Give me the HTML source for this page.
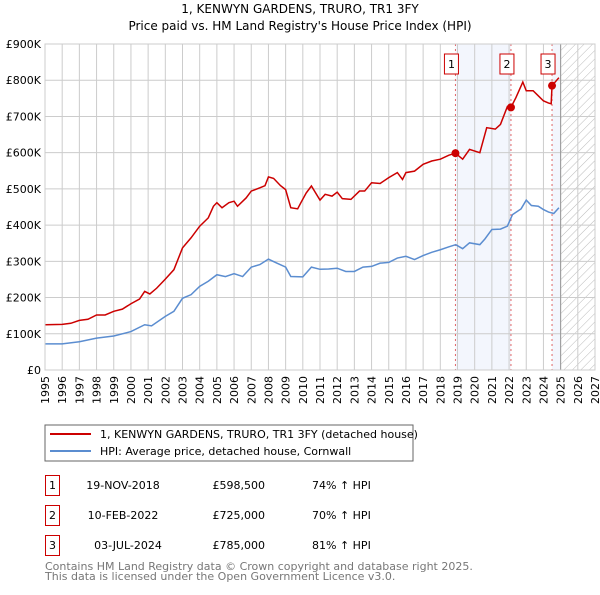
<!DOCTYPE html>
<html><head><meta charset="utf-8"><style>
body{margin:0;background:#fff;width:600px;height:590px;overflow:hidden}
svg{font-family:"DejaVu Sans","Liberation Sans",sans-serif}
</style></head><body>
<svg id="chart" width="600" height="590" viewBox="0 0 600 590">
<defs><pattern id="hatch" width="6" height="6" patternUnits="userSpaceOnUse" patternTransform="rotate(45)"><line x1="0" y1="0" x2="0" y2="6" stroke="#bbb" stroke-width="1"/></pattern></defs>
<text x="300" y="13" text-anchor="middle" font-size="12">1, KENWYN GARDENS, TRURO, TR1 3FY</text>
<text x="300" y="30" text-anchor="middle" font-size="12">Price paid vs. HM Land Registry's House Price Index (HPI)</text>
<g id="plot"></g>
<rect x="45" y="425" width="368" height="36" fill="#fff" stroke="#666"/>
<line x1="50" y1="434" x2="91" y2="434" stroke="#cc0000" stroke-width="2"/>
<text x="100" y="438" font-size="11">1, KENWYN GARDENS, TRURO, TR1 3FY (detached house)</text>
<line x1="50" y1="451" x2="91" y2="451" stroke="#5b8dd0" stroke-width="2"/>
<text x="100" y="455" font-size="11">HPI: Average price, detached house, Cornwall</text>
<g font-size="11">
<rect x="45.5" y="475.5" width="14" height="20" fill="none" stroke="#cc0000"/><text x="52.5" y="489" text-anchor="middle">1</text>
<text x="123" y="489" text-anchor="middle">19-NOV-2018</text><text x="265" y="489" text-anchor="end">£598,500</text><text x="312" y="489">74% ↑ HPI</text>
<rect x="45.5" y="505.5" width="14" height="20" fill="none" stroke="#cc0000"/><text x="52.5" y="519" text-anchor="middle">2</text>
<text x="123" y="519" text-anchor="middle">10-FEB-2022</text><text x="265" y="519" text-anchor="end">£725,000</text><text x="312" y="519">70% ↑ HPI</text>
<rect x="45.5" y="535.5" width="14" height="20" fill="none" stroke="#cc0000"/><text x="52.5" y="549" text-anchor="middle">3</text>
<text x="128" y="549" text-anchor="middle">03-JUL-2024</text><text x="265" y="549" text-anchor="end">£785,000</text><text x="312" y="549">81% ↑ HPI</text>
</g>
<text x="45" y="570" font-size="11" fill="#777">Contains HM Land Registry data © Crown copyright and database right 2025.</text>
<text x="45" y="580" font-size="11" fill="#777">This data is licensed under the Open Government Licence v3.0.</text>
</svg>
<script>
const hpiYears=[1995,1996,1997,1998,1999,2000,2000.8,2001.2,2002,2002.5,2003,2003.5,2004,2004.5,2005,2005.5,2006,2006.5,2007,2007.5,2008,2008.5,2009,2009.3,2010,2010.5,2011,2011.5,2012,2012.5,2013,2013.5,2014,2014.5,2015,2015.5,2016,2016.5,2017,2017.5,2018,2018.5,2018.9,2019.3,2019.7,2020.3,2020.6,2021,2021.5,2021.9,2022.2,2022.7,2023,2023.3,2023.7,2024,2024.3,2024.6,2024.9];
const hpiValues=[72,72,78,88,94,106,125,122,148,162,198,208,231,245,263,258,266,258,284,291,306,295,284,258,257,284,278,279,281,272,272,284,286,295,297,309,314,305,316,325,332,340,346,335,351,346,362,388,389,397,429,445,469,454,452,443,436,432,448];
const priceYears=[1995,1996,1996.5,1997,1997.5,1998,1998.5,1999,1999.5,2000,2000.5,2000.8,2001.1,2001.5,2002,2002.5,2003,2003.5,2004,2004.5,2004.8,2005,2005.3,2005.7,2006,2006.2,2006.7,2007,2007.5,2007.8,2008,2008.3,2008.7,2009,2009.3,2009.7,2009.9,2010.2,2010.5,2011,2011.3,2011.7,2012,2012.3,2012.8,2013.3,2013.6,2014,2014.5,2015,2015.5,2015.8,2016,2016.5,2017,2017.5,2018,2018.5,2018.88,2019.3,2019.7,2020.3,2020.7,2021.2,2021.5,2021.9,2022.11,2022.4,2022.8,2023,2023.4,2023.7,2024,2024.3,2024.45,2024.5,2024.9];
const priceValues=[125,126,129,137,140,152,152,162,168,183,196,217,210,226,251,277,337,365,397,420,452,462,448,462,466,452,475,494,503,509,533,529,509,498,448,445,463,489,508,469,485,480,491,473,471,494,494,517,515,531,545,526,545,549,568,577,582,593,598.5,582,609,600,669,665,678,727,725,752,795,771,771,757,743,737,735,785,807];
const saleYears=[2018.88,2022.11,2024.5];
const saleValues=[598.5,725,785];
const saleLabels=["1","2","3"];
const yTicks=[0,100,200,300,400,500,600,700,800,900];
const yTickLabels=["£0","£100K","£200K","£300K","£400K","£500K","£600K","£700K","£800K","£900K"];
const xTicks=[1995,1996,1997,1998,1999,2000,2001,2002,2003,2004,2005,2006,2007,2008,2009,2010,2011,2012,2013,2014,2015,2016,2017,2018,2019,2020,2021,2022,2023,2024,2025,2026,2027];

const L=45,R=595,T=44,B=370,x0=1995,x1=2027,ymax=900;
const X=v=>L+(v-x0)/(x1-x0)*(R-L);
const Y=v=>B-v/ymax*(B-T);
const NS="http://www.w3.org/2000/svg";
const g=document.getElementById('plot');
function mk(tag,attrs){const e=document.createElementNS(NS,tag);for(const k in attrs)e.setAttribute(k,attrs[k]);g.appendChild(e);return e;}
let e=mk('rect',{x:X(saleYears[0]),y:T,width:X(saleYears[1])-X(saleYears[0]),height:B-T,fill:'#f3f6fd'});


e=mk('rect',{x:X(saleYears[2]),y:T,width:X(2025)-X(saleYears[2]),height:B-T,fill:'#f3f6fd'});


e=mk('rect',{x:X(2025),y:T,width:R-X(2025),height:B-T,fill:'url(#hatch)'});


xTicks.forEach(t=>{
  const gl=mk('line',{x1:X(t),x2:X(t),y1:T,y2:B,stroke:'#ccc','stroke-width':1});
  
  
  const tx=mk('text',{x:0,y:0,'font-size':11,'text-anchor':'end',transform:`translate(${X(t)+4},${B+6}) rotate(-90)`});
  tx.textContent=t;
  
  
});
yTicks.forEach((t,i)=>{
  const gl=mk('line',{x1:L,x2:R,y1:Y(t),y2:Y(t),stroke:'#ccc','stroke-width':1});
  
  
  const tx=mk('text',{x:41,y:Y(t)+4,'font-size':11,'text-anchor':'end'});
  tx.textContent=yTickLabels[i];
  
  
});
e=mk('line',{x1:X(2025),x2:X(2025),y1:T,y2:B,stroke:'#999','stroke-width':1});


saleYears.forEach(s=>{
  const l=mk('line',{x1:X(s),x2:X(s),y1:T,y2:B,stroke:'#e06666','stroke-width':1,'stroke-dasharray':'2,3'});
  
  
});
e=mk('polyline',{points:hpiYears.map((v,i)=>X(v)+','+Y(hpiValues[i])).join(' '),fill:'none',stroke:'#5b8dd0','stroke-width':1.5});


e=mk('polyline',{points:priceYears.map((v,i)=>X(v)+','+Y(priceValues[i])).join(' '),fill:'none',stroke:'#cc0000','stroke-width':1.5});


saleYears.forEach((s,i)=>{
  const c=mk('circle',{cx:X(s),cy:Y(saleValues[i]),r:4,fill:'#cc0000'});
  
  
  const bx=mk('rect',{x:X(s)-11,y:54,width:14,height:20,fill:'#fff',stroke:'#cc0000'});
  
  
  const t=mk('text',{x:X(s)-4,y:68,'font-size':11,'text-anchor':'middle'});
  t.textContent=saleLabels[i];
  
  
});
e=mk('rect',{x:L,y:T,width:R-L,height:B-T,fill:'none',stroke:'#ccc'});


</script>
</body></html>
